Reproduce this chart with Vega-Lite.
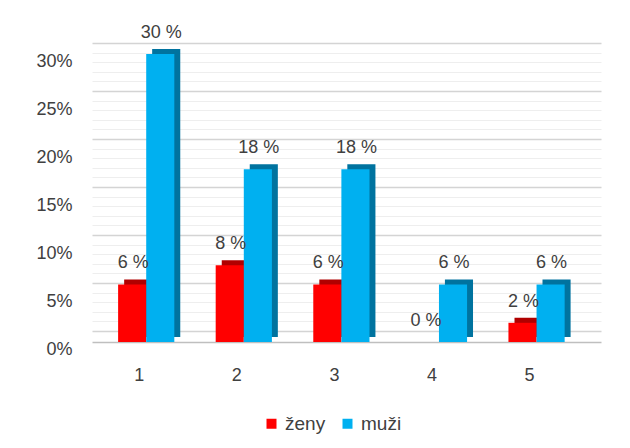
{
  "$schema": "https://vega.github.io/schema/vega-lite/v6.json",
  "autosize": {"type": "none"},
  "width": 509,
  "height": 288,
  "padding": {"left": 92, "top": 54, "right": 29, "bottom": 106},
  "background": "#ffffff",
  "config": {
    "view": {"stroke": null},
    "font": "Liberation Sans",
    "axis": {"labelFont": "Liberation Sans", "labelColor": "#404040"},
    "legend": {"labelFont": "Liberation Sans"}
  },
  "data": {
    "values": [
      {"k": "1", "s": "ženy", "v": 0.06},
      {"k": "1", "s": "muži", "v": 0.30},
      {"k": "2", "s": "ženy", "v": 0.08},
      {"k": "2", "s": "muži", "v": 0.18},
      {"k": "3", "s": "ženy", "v": 0.06},
      {"k": "3", "s": "muži", "v": 0.18},
      {"k": "4", "s": "ženy", "v": 0.0},
      {"k": "4", "s": "muži", "v": 0.06},
      {"k": "5", "s": "ženy", "v": 0.02},
      {"k": "5", "s": "muži", "v": 0.06}
    ]
  },
  "encoding": {
    "x": {
      "field": "k", "type": "nominal",
      "scale": {"paddingInner": 0.424, "paddingOuter": 0.32, "align": 0.418},
      "axis": {
        "title": null, "labelAngle": 0, "ticks": false, "tickSize": 0,
        "labelPadding": 24, "labelFontSize": 18, "labelOffset": -7,
        "domainColor": "#bfbfbf", "domainWidth": 1.5, "grid": false
      }
    },
    "y": {
      "field": "v", "type": "quantitative",
      "scale": {"domain": [0, 0.30], "nice": false},
      "axis": {
        "title": null,
        "values": [0, 0.01, 0.02, 0.03, 0.04, 0.05, 0.06, 0.07, 0.08, 0.09, 0.1, 0.11, 0.12, 0.13, 0.14, 0.15, 0.16, 0.17, 0.18, 0.19, 0.2, 0.21, 0.22, 0.23, 0.24, 0.25, 0.26, 0.27, 0.28, 0.29, 0.3],
        "labelExpr": "round(datum.value*100) % 5 === 0 ? round(datum.value*100) + '%' : ''",
        "ticks": false, "domain": false, "grid": true,
        "gridColor": {"condition": {"test": "round(datum.value*100) % 5 === 0", "value": "#d4d4d4"}, "value": "#eeeeee"},
        "gridWidth": {"condition": {"test": "round(datum.value*100) % 5 === 0", "value": 1.5}, "value": 1},
        "tickOffset": -11, "labelOffset": 18, "labelPadding": 20, "labelFontSize": 18
      }
    }
  },
  "layer": [
    {
      "transform": [{"filter": "datum.s === 'ženy'"}],
      "mark": {"type": "bar", "width": {"band": 0.5}, "xOffset": -8, "yOffset": -5, "y2Offset": 0, "color": "#b00000"}
    },
    {
      "transform": [{"filter": "datum.s === 'muži'"}],
      "mark": {"type": "bar", "width": {"band": 0.5}, "xOffset": 20, "yOffset": -5, "y2Offset": -1, "color": "#00739f"}
    },
    {
      "mark": {"type": "bar"},
      "encoding": {
        "xOffset": {"field": "s", "type": "nominal", "sort": ["ženy", "muži"], "scale": {"paddingInner": 0, "paddingOuter": 0}},
        "color": {
          "field": "s", "type": "nominal",
          "scale": {"domain": ["ženy", "muži"], "range": ["#ff0000", "#00b0f0"]},
          "legend": {
            "title": null, "orient": "none", "legendX": 170, "legendY": 360, "direction": "horizontal",
            "symbolType": "square", "symbolSize": 100, "symbolStrokeWidth": 0, "labelOffset": 4,
            "labelFontSize": 19, "labelColor": "#404040", "columnPadding": 12
          }
        }
      }
    },
    {
      "mark": {"type": "text", "baseline": "middle", "align": "center", "dy": -21, "dx": 1, "fontSize": 18, "color": "#404040", "text": {"expr": "round(datum.v*100) + ' %'"}},
      "encoding": {
        "xOffset": {"field": "s", "type": "nominal", "sort": ["ženy", "muži"]}
      }
    }
  ]
}
